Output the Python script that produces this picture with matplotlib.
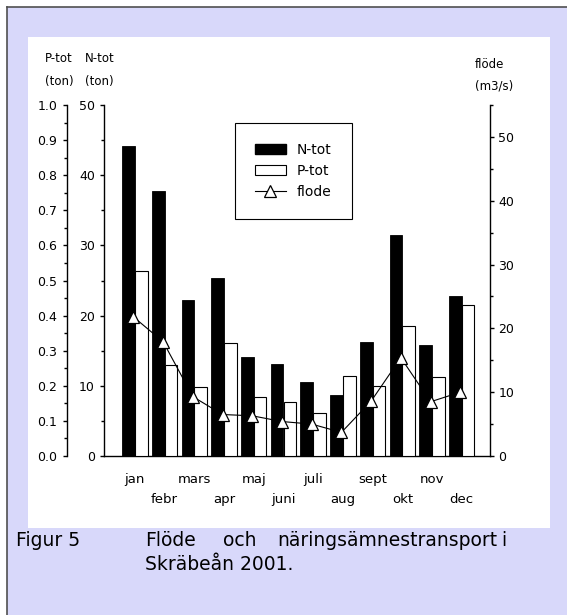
import numpy as np
import matplotlib
matplotlib.use("Agg")
import matplotlib.pyplot as plt
from matplotlib.patches import Rectangle, Patch
from matplotlib.lines import Line2D
from matplotlib.ticker import MultipleLocator, FormatStrFormatter

months = ["jan", "febr", "mars", "apr", "maj", "juni",
          "juli", "aug", "sept", "okt", "nov", "dec"]
n_tot = [44.2, 37.7, 22.2, 25.4, 14.1, 13.1, 10.6, 8.7, 16.3, 31.5, 15.8, 22.8]   # ton
p_tot = [0.528, 0.259, 0.197, 0.321, 0.169, 0.155, 0.122, 0.228, 0.200, 0.371, 0.224, 0.429]  # ton
flode = [21.8, 17.9, 9.3, 6.5, 6.3, 5.4, 5.0, 3.7, 8.6, 15.4, 8.5, 10.0]   # m3/s

W, H = 567, 615


def fx(x):
    return x / W


def fy(y):
    return 1 - y / H


fig = plt.figure(figsize=(W / 100, H / 100), dpi=100)
fig.patch.set_facecolor("white")

# lavender frame + white panel
fig.add_artist(Rectangle((fx(6.5), 0), 1 - fx(6.5), fy(6.5), transform=fig.transFigure,
                         facecolor="#d8d8fa", edgecolor="none", zorder=-10))
fig.add_artist(Line2D([fx(6.5), fx(6.5)], [0, fy(6.5)], transform=fig.transFigure,
                      color="#505050", lw=1.2, zorder=-9))
fig.add_artist(Line2D([fx(6.5), 1], [fy(6.5), fy(6.5)], transform=fig.transFigure,
                      color="#505050", lw=1.2, zorder=-9))
fig.add_artist(Rectangle((fx(27.5), fy(528)), fx(550) - fx(27.5), fy(37) - fy(528),
                         transform=fig.transFigure, facecolor="white",
                         edgecolor="none", zorder=-8))

x = np.arange(len(months))
bw = 0.43

# N-tot axis (main)
ax = fig.add_axes([fx(104), fy(456), fx(490) - fx(104), fy(105) - fy(456)])
ax.patch.set_visible(False)
ax.bar(x - bw / 2, n_tot, width=bw, color="black", edgecolor="black", lw=0.6)
ax.set_xlim(-1.04, 11.95)
ax.set_ylim(0, 50)
ax.yaxis.set_major_locator(MultipleLocator(10))
ax.yaxis.set_minor_locator(MultipleLocator(5))
ax.spines[["top", "right"]].set_visible(False)
ax.set_xticks([])
ax.tick_params(axis="y", which="major", direction="out", length=3, width=1,
               labelsize=9, pad=3.5)
ax.tick_params(axis="y", which="minor", direction="out", length=2, width=1)
for s in ["left", "bottom"]:
    ax.spines[s].set_linewidth(1.0)

# month labels, alternating rows
for i, m in enumerate(months):
    yb = -0.077 if i % 2 == 0 else -0.134
    ax.text(i, yb, m, transform=ax.get_xaxis_transform(), ha="center",
            va="baseline", fontsize=9.5)

# P-tot axis (outer left)
axp = ax.twinx()
axp.bar(x + bw / 2, p_tot, width=0.42, color="white", edgecolor="black", lw=0.8)
axp.set_ylim(0, 1.0)
axp.yaxis.tick_left()
axp.spines[["top", "right", "bottom"]].set_visible(False)
axp.spines["left"].set_position(("axes", (67 - 104) / 386))
axp.spines["left"].set_linewidth(1.0)
axp.yaxis.set_major_locator(MultipleLocator(0.1))
axp.yaxis.set_minor_locator(MultipleLocator(0.05))
axp.yaxis.set_major_formatter(FormatStrFormatter("%.1f"))
axp.tick_params(axis="y", which="major", direction="out", length=3, width=1,
                labelsize=9, pad=4)
axp.tick_params(axis="y", which="minor", direction="out", length=2, width=1)

# flow axis (right)
axf = ax.twinx()
axf.plot(x - 0.05, flode, "-^", color="black", lw=0.8, ms=8.5,
         mfc="white", mec="black", mew=0.9)
axf.set_ylim(0, 55)
axf.spines[["top", "left", "bottom"]].set_visible(False)
axf.spines["right"].set_linewidth(1.0)
axf.yaxis.set_major_locator(MultipleLocator(10))
axf.yaxis.set_minor_locator(MultipleLocator(5))
axf.tick_params(axis="y", which="major", direction="out", length=3, width=1,
                labelsize=9, pad=3)
axf.tick_params(axis="y", which="minor", direction="out", length=2, width=1)

handles = [Patch(facecolor="black", edgecolor="black"),
           Patch(facecolor="white", edgecolor="black", lw=0.8),
           Line2D([], [], color="black", lw=0.8, marker="^", ms=8.5,
                  mfc="white", mec="black", mew=0.9)]
leg = axf.legend(handles, ["N-tot", "P-tot", "flode"], loc="upper left",
                 bbox_to_anchor=(fx(235), fy(123)), bbox_transform=fig.transFigure,
                 fancybox=False, edgecolor="black", framealpha=1, fontsize=10,
                 borderpad=1.45, labelspacing=0.5, handlelength=2.2,
                 handletextpad=0.8, handleheight=0.7, borderaxespad=0)
leg.get_frame().set_linewidth(0.8)

# axis captions
for txt, px, py in [("P-tot", 45, 58), ("(ton)", 45, 81), ("N-tot", 85, 58),
                    ("(ton)", 85, 81), ("flöde", 475, 65), ("(m3/s)", 475, 86)]:
    fig.text(fx(px), fy(py), txt, ha="left", va="center", fontsize=8.5)

# figure caption
fig.text(fx(16), fy(546.5), "Figur 5", ha="left", va="baseline", fontsize=13.5)
for word, px in [("Flöde", 145), ("och", 223), ("näringsämnestransport", 277)]:
    fig.text(fx(px), fy(546.5), word, ha="left", va="baseline", fontsize=13.5)
fig.text(fx(506), fy(546.5), "i", ha="right", va="baseline", fontsize=13.5)
fig.text(fx(145), fy(570), "Skräbeån 2001.", ha="left", va="baseline", fontsize=13.5)

fig.savefig("out.png", dpi=100)
